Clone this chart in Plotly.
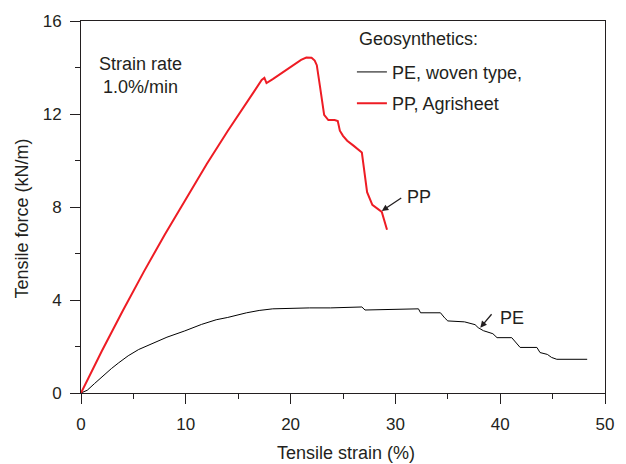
import plotly.graph_objects as go

# PP Agrisheet: tensile strain (%) vs tensile force (kN/m)
pp_strain = [0, 2, 4, 6, 8, 10, 12, 14, 16, 17.24, 17.5, 17.7, 18.3, 19.0, 19.7, 20.4,
             21.0, 21.5, 22.0, 22.3, 22.5, 22.8, 23.2, 23.6, 24.2, 24.5, 24.7, 25.0,
             25.4, 26.0, 26.4, 26.8, 27.3, 27.8, 28.7, 29.2]
pp_force = [0, 1.82, 3.55, 5.22, 6.82, 8.36, 9.85, 11.27, 12.64, 13.46, 13.55, 13.33, 13.5,
            13.72, 13.95, 14.17, 14.33, 14.43, 14.42, 14.3, 14.1, 13.2, 11.96, 11.74,
            11.74, 11.7, 11.28, 11.06, 10.85, 10.64, 10.5, 10.34, 8.64, 8.09, 7.79, 7.02]

# PE woven type
pe_strain = [0, 0.6, 1.3, 2.1, 2.9, 3.6, 4.5, 5.5, 6.7, 8.2, 9.9, 11.5, 12.9, 14.0, 15.8,
             17.0, 18.3, 20.0, 21.8, 23.8, 25.7, 26.8, 27.1, 32.2, 32.4, 34.3, 34.7,
             35.0, 36.6, 37.6, 37.9, 38.4, 39.3, 39.7, 41.1, 41.6, 41.9, 43.5, 43.8,
             44.5, 44.9, 45.4, 48.3]
pe_force = [0, 0.12, 0.41, 0.75, 1.05, 1.3, 1.6, 1.87, 2.1, 2.4, 2.67, 2.95, 3.15, 3.25, 3.45,
            3.55, 3.62, 3.65, 3.66, 3.66, 3.70, 3.70, 3.57, 3.62, 3.45, 3.45, 3.23,
            3.1, 3.06, 2.94, 2.81, 2.68, 2.55, 2.38, 2.38, 2.13, 1.96, 1.96, 1.74,
            1.66, 1.53, 1.45, 1.45]

x_ticks = [0, 10, 20, 30, 40, 50]
y_ticks = [0, 4, 8, 12, 16]

TXT = "#231f20"
FONT = "Liberation Sans, Arial, sans-serif"
FS = 18      # annotation / legend / title text
TFS = 17     # tick labels

fig = go.Figure()
fig.add_trace(go.Scatter(x=pe_strain, y=pe_force, mode="lines", legendgroup="pe",
                         name="PE, woven type,", line=dict(color="black", width=1)))
fig.add_trace(go.Scatter(x=pp_strain, y=pp_force, mode="lines", legendgroup="pp",
                         name="PP, Agrisheet", line=dict(color="#ee1c24", width=2)))

axis_common = dict(showline=True, linecolor=TXT, linewidth=1, mirror=True,
                   showgrid=False, zeroline=False, ticks="outside", ticklen=10,
                   tickwidth=1, tickcolor=TXT,
                   tickfont=dict(size=TFS, color=TXT, family=FONT),
                   minor=dict(ticks="outside", ticklen=5, tickcolor=TXT, tickwidth=1))

fig.update_xaxes(range=[0, 50], tickvals=x_ticks, minor_dtick=5, ticklabelstandoff=6,
                 **axis_common)
fig.update_yaxes(range=[0, 16], tickvals=y_ticks, minor_dtick=2, ticklabelstandoff=5,
                 **axis_common)

txt_font = dict(size=FS, color=TXT, family=FONT)

# axis titles
fig.add_annotation(x=0.506, y=-0.16, xref="paper", yref="paper", text="Tensile strain (%)",
                   showarrow=False, font=txt_font, xanchor="center", yanchor="middle")
fig.add_annotation(x=-0.1126, y=0.469, xref="paper", yref="paper", text="Tensile force (kN/m)",
                   showarrow=False, font=txt_font, textangle=-90,
                   xanchor="center", yanchor="middle")

fig.add_annotation(x=5.67, y=13.66, text="Strain rate<br>1.0%/min", showarrow=False,
                   font=txt_font, align="center")
fig.add_annotation(x=28.7, y=7.83, ax=30.7, ay=8.43, xref="x", yref="y", axref="x", ayref="y",
                   text="", showarrow=True, arrowhead=2, arrowsize=1, arrowwidth=1.3,
                   arrowcolor=TXT)
fig.add_annotation(x=30.9, y=8.43, text="PP", showarrow=False, xanchor="left", font=txt_font)
fig.add_annotation(x=38.1, y=2.81, ax=39.3, ay=3.45, xref="x", yref="y", axref="x", ayref="y",
                   text="", showarrow=True, arrowhead=2, arrowsize=1, arrowwidth=1.3,
                   arrowcolor=TXT)
fig.add_annotation(x=39.8, y=3.23, text="PE", showarrow=False, xanchor="left", font=txt_font)

# legend heading
fig.add_annotation(x=0.526, y=0.952, xref="paper", yref="paper", text="Geosynthetics:",
                   showarrow=False, font=txt_font, xanchor="left", yanchor="middle")

fig.update_layout(
    width=626, height=464,
    margin=dict(l=81, r=21, t=18, b=71),
    paper_bgcolor="white", plot_bgcolor="white",
    font=dict(family=FONT, color=TXT, size=FS),
    legend=dict(x=0.517, y=0.912, xanchor="left", yanchor="top",
                font=txt_font, bgcolor="rgba(0,0,0,0)", itemwidth=30, tracegroupgap=5),
)

fig.write_html("out.html")
